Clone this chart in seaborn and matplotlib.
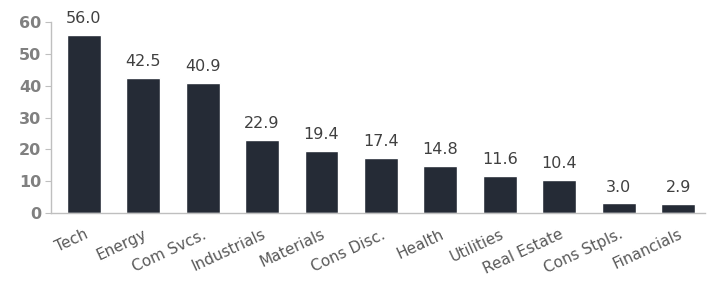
import matplotlib
matplotlib.use("Agg")
import matplotlib.pyplot as plt
import seaborn as sns
import pandas as pd

sectors = ["Tech", "Energy", "Com Svcs.", "Industrials", "Materials", "Cons Disc.",
           "Health", "Utilities", "Real Estate", "Cons Stpls.", "Financials"]
values = [56.0, 42.5, 40.9, 22.9, 19.4, 17.4, 14.8, 11.6, 10.4, 3.0, 2.9]

df = pd.DataFrame({"sector": sectors, "value": values})

sns.set_style("white")
plt.rcParams["font.family"] = ["DejaVu Sans"]

fig = plt.figure(figsize=(7.21, 2.84), dpi=100)
ax = fig.add_axes([0.0707, 0.25, 0.907, 0.6725])
sns.barplot(data=df, x="sector", y="value", color="#252b36", width=0.57,
            saturation=1, ax=ax)

for i, v in enumerate(values):
    ax.text(i, v + 2.8, f"{v:.1f}", ha="center", va="bottom", fontsize=11.5,
            color="#404040", clip_on=False)

ax.set_ylim(0, 60)
ax.set_xlim(-0.55, 10.45)
ax.set_yticks(range(0, 61, 10))
ax.set_xlabel("")
ax.set_ylabel("")
for s in ["top", "right"]:
    ax.spines[s].set_visible(False)
for s in ["left", "bottom"]:
    ax.spines[s].set_color("#bfbfbf")
    ax.spines[s].set_linewidth(1)
ax.tick_params(axis="y", length=4, color="#bfbfbf", labelsize=11.5,
               labelcolor="#808080", pad=3, left=True)
ax.tick_params(axis="x", length=0, labelsize=11, labelcolor="#595959", pad=10)
for lbl in ax.get_yticklabels():
    lbl.set_fontweight("bold")
plt.setp(ax.get_xticklabels(), rotation=25, ha="right", rotation_mode="anchor")

fig.savefig("out.png", dpi=100)
